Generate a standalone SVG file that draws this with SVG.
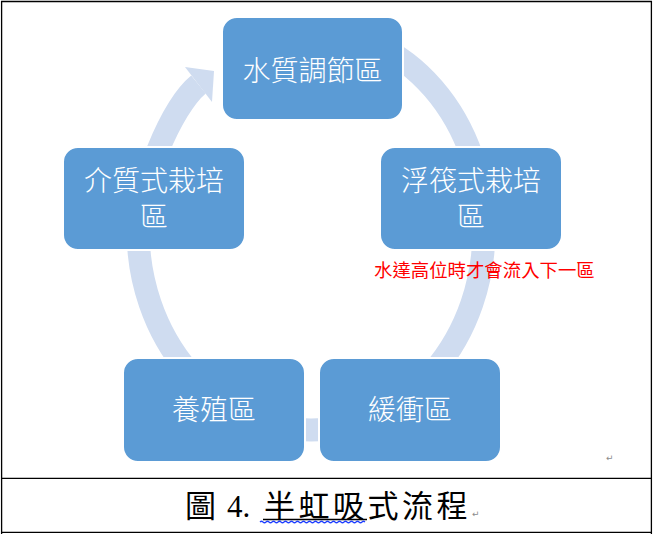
<svg xmlns="http://www.w3.org/2000/svg" width="653" height="534" viewBox="0 0 653 534">
<style>
.box{fill:#5B9BD5;stroke:#FFFFFF;stroke-width:2}
.lbl{font-family:"Noto Sans CJK TC","Noto Sans CJK SC",sans-serif;font-weight:300;font-size:28px;fill:#FFFFFF;text-anchor:middle}
.ring{fill:none;stroke:#CFDCF0;stroke-width:23}
.frame{stroke:#000000;stroke-width:1.3;fill:none}
.mark{font-family:"DejaVu Sans",sans-serif;font-size:9px;fill:#8C8C8C}
</style>
<rect x="0" y="0" width="653" height="534" fill="#FFFFFF"/>
<g id="frame">
<line class="frame" x1="1" y1="1.5" x2="652" y2="1.5"/>
<line class="frame" x1="1.6" y1="1" x2="1.6" y2="534"/>
<line class="frame" x1="651.4" y1="1" x2="651.4" y2="534"/>
<line class="frame" x1="1" y1="478.4" x2="652" y2="478.4"/>
<line class="frame" x1="1" y1="532.4" x2="652" y2="532.4"/>
</g>
<g id="connectors">
<path class="ring" d="M 311 30 A 173 200 0 0 1 484 230 A 173 200 0 0 1 311 430 A 173 200 0 0 1 138 230 C 138 188.3 171.1 106.9 198.5 84.5"/>
<polygon points="185,67 214,71 212,102" fill="#CFDCF0"/>
</g>
<g id="node-water-quality">
<rect class="box" x="222" y="17" width="181" height="103" rx="15" ry="15"/>
<text class="lbl" x="312.5" y="80.5">水質調節區</text>
</g>
<g id="node-raft">
<rect class="box" x="380" y="147" width="182" height="103" rx="15" ry="15"/>
<text class="lbl" x="471" y="191">浮筏式栽培</text>
<text class="lbl" x="471" y="227">區</text>
</g>
<g id="node-buffer">
<rect class="box" x="319" y="358" width="182" height="104" rx="15" ry="15"/>
<text class="lbl" x="410" y="420">緩衝區</text>
</g>
<g id="node-aquaculture">
<rect class="box" x="123" y="358" width="182" height="104" rx="15" ry="15"/>
<text class="lbl" x="214" y="420">養殖區</text>
</g>
<g id="node-media">
<rect class="box" x="63" y="147" width="182" height="103" rx="15" ry="15"/>
<text class="lbl" x="154" y="191">介質式栽培</text>
<text class="lbl" x="154" y="227">區</text>
</g>
<g id="note">
<text x="374" y="277" font-family="'Noto Sans CJK TC','Noto Sans CJK SC',sans-serif" font-size="18.4" fill="#FF0000">水達高位時才會流入下一區</text>
</g>
<g id="caption">
<text y="517" font-family="'Liberation Serif','Noto Sans CJK TC',serif" font-size="31" fill="#000000"><tspan x="185">圖</tspan><tspan x="227">4.</tspan><tspan x="264">半</tspan><tspan x="298.5">虹</tspan><tspan x="333">吸</tspan><tspan x="367.5">式</tspan><tspan x="402">流</tspan><tspan x="436.5">程</tspan></text>
<line x1="263" y1="519.5" x2="367" y2="519.5" stroke="#000000" stroke-width="1.3"/>
<path d="M 260 522 q 1.5 -1.5 3 0 t 3 0 t 3 0 t 3 0 t 3 0 t 3 0 t 3 0 t 3 0 t 3 0 t 3 0 t 3 0 t 3 0 t 3 0 t 3 0 t 3 0 t 3 0 t 3 0 t 3 0 t 3 0 t 3 0 t 3 0 t 3 0 t 3 0 t 3 0 t 3 0 t 3 0 t 3 0 t 3 0 t 3 0 t 3 0 t 3 0 t 3 0 t 3 0 t 3 0 t 3 0" fill="none" stroke="#1F3FFF" stroke-width="1.2"/>
<text class="mark" x="472" y="517">↵</text>
<text class="mark" x="606" y="461">↵</text>
</g>
</svg>
